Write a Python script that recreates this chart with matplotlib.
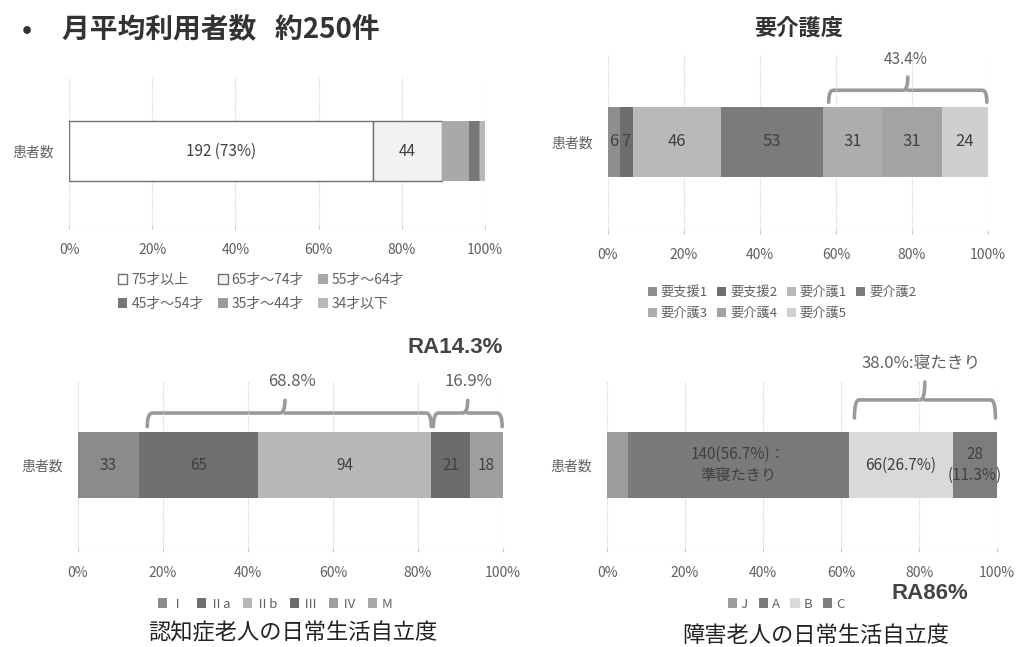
import matplotlib
matplotlib.use("Agg")
import matplotlib.pyplot as plt
import numpy as np
from matplotlib.path import Path
from matplotlib.patches import PathPatch
import matplotlib.transforms as mtransforms

plt.rcParams['font.family'] = ['Noto Sans CJK JP', 'DejaVu Sans']

W, H = 1018, 647

# 年齢構成
age_cats = ["75才以上", "65才～74才", "55才～64才", "45才～54才", "35才～44才", "34才以下"]
age_vals = [192, 44, 17, 6, 1, 3]
age_labels = ["192 (73%)", "44", "", "", "", ""]

# 要介護度
care_cats = ["要支援1", "要支援2", "要介護1", "要介護2", "要介護3", "要介護4", "要介護5"]
care_vals = [6, 7, 46, 53, 31, 31, 24]
care_labels = ["6", "7", "46", "53", "31", "31", "24"]

# 認知症老人の日常生活自立度
dem_cats = ["Ⅰ", "Ⅱa", "Ⅱb", "Ⅲ", "Ⅳ", "M"]
dem_vals = [33, 65, 94, 21, 18, 0]
dem_labels = ["33", "65", "94", "21", "18", ""]

# 障害老人の日常生活自立度
bed_cats = ["J", "A", "B", "C"]
bed_vals = [13, 140, 66, 28]
bed_labels = ["", "140(56.7%)：\n準寝たきり", "66(26.7%)", "28\n(11.3%)"]

age_colors = ["#ffffff", "#f2f2f2", "#a9a9a9", "#777777", "#9a9a9a", "#b8b8b8"]
care_colors = ["#8e8e8e", "#6e6e6e", "#b9b9b9", "#7b7b7b", "#adadad", "#a3a3a3", "#cfcfcf"]
dem_colors = ["#8b8b8b", "#707070", "#b7b7b7", "#6b6b6b", "#9e9e9e", "#a8a8a8"]
bed_colors = ["#9c9c9c", "#7a7a7a", "#d9d9d9", "#7d7d7d"]

fig = plt.figure(figsize=(W / 100, H / 100), dpi=100)
fig.patch.set_facecolor("white")


def pix_axes(x0, x1, ytop, ybot):
    return fig.add_axes([x0 / W, 1 - ybot / H, (x1 - x0) / W, (ybot - ytop) / H])


def stacked_bar(ax, vals, colors, labels, edge=None, fs=11):
    total = sum(vals)
    left = 0
    bars = []
    for i, v in enumerate(vals):
        frac = v / total
        ec = edge[i] if edge else "none"
        b = ax.barh(0, frac, left=left, height=0.4, color=colors[i],
                    edgecolor=ec, linewidth=1.0 if edge else 0, zorder=3)
        bars.append(b[0])
        if labels[i]:
            ax.text(left + frac / 2, 0, labels[i], ha="center", va="center",
                    fontsize=fs, color="#404040", zorder=4, linespacing=1.3)
        left += frac
    ax.set_xlim(0, 1)
    ax.set_ylim(-0.5, 0.5)
    ax.set_xticks(np.linspace(0, 1, 6))
    ax.set_xticklabels([f"{int(t * 100)}%" for t in np.linspace(0, 1, 6)],
                       fontsize=10, color="#606060")
    ax.set_yticks([0])
    ax.set_yticklabels(["患者数"], fontsize=10, color="#606060")
    ax.tick_params(axis="y", length=0, pad=11)
    ax.tick_params(axis="x", length=3, color="#c8c8c8", pad=10)
    for s in ax.spines.values():
        s.set_visible(False)
    ax.grid(axis="x", color="#d4d4d4", linestyle=(0, (1, 1)), linewidth=0.8, zorder=0)
    ax.axhline(-0.5, color="#c8c8c8", linestyle=(0, (1, 1)), linewidth=0.9, zorder=1)
    return bars


def brace(ax, x0, x1, y_low, y_mid, y_top, xm=None):
    # curly bracket in data-x / axes-y coordinates
    if xm is None:
        xm = (x0 + x1) / 2
    r = 0.012
    verts = [(x0, y_low), (x0, y_mid), (x0 + r, y_mid),
             (xm - r, y_mid),
             (xm, y_mid), (xm, y_top),
             (xm, y_mid), (xm + r, y_mid),
             (x1 - r, y_mid),
             (x1, y_mid), (x1, y_low)]
    codes = [Path.MOVETO, Path.CURVE3, Path.CURVE3,
             Path.LINETO,
             Path.CURVE3, Path.CURVE3,
             Path.MOVETO, Path.LINETO,
             Path.LINETO,
             Path.CURVE3, Path.CURVE3]
    trans = mtransforms.blended_transform_factory(ax.transData, ax.transAxes)
    p = PathPatch(Path(verts, codes), facecolor="none", edgecolor="#9a9a9a",
                  linewidth=2.6, transform=trans, clip_on=False, capstyle="round")
    ax.add_patch(p)


def legend(ax, bars, names, order, ncol, cx, cy, fs=9, colsp=0.8, rowsp=0.45):
    h = [bars[i] for i in order]
    n = [names[i] for i in order]
    ax.legend(h, n, ncol=ncol, loc="center", bbox_to_anchor=(cx / W, 1 - cy / H),
              bbox_transform=fig.transFigure, frameon=False, fontsize=fs,
              handlelength=0.7, handleheight=0.7, handletextpad=0.3,
              columnspacing=colsp, labelspacing=rowsp, labelcolor="#606060")


# 見出し
fig.text(22 / W, 1 - 30 / H, "•", fontsize=19, fontweight="bold", color="#333333", va="center")
fig.text(62 / W, 1 - 30 / H, "月平均利用者数   約250件", fontsize=20, fontweight="bold",
         color="#333333", va="center")

# 年齢
ax1 = pix_axes(69, 485, 77, 225)
b1 = stacked_bar(ax1, age_vals, age_colors, age_labels,
                 edge=["#707070", "#707070", "none", "none", "none", "none"])
legend(ax1, b1, age_cats, [0, 3, 1, 4, 2, 5], 3, 261, 292, fs=10, colsp=1.0, rowsp=0.75)

# 要介護度
ax2 = pix_axes(608, 988, 54, 230)
b2 = stacked_bar(ax2, care_vals, care_colors, care_labels, fs=12)
legend(ax2, b2, care_cats, [0, 4, 1, 5, 2, 6, 3], 4, 782, 303, fs=9.5, colsp=0.7, rowsp=0.6)
fig.text(799 / W, 1 - 28 / H, "要介護度", fontsize=16, fontweight="bold", color="#333333",
         ha="center", va="center")
c2 = np.cumsum(care_vals) / sum(care_vals)
brace(ax2, c2[3] + 0.015, 0.997, 0.726, 0.794, 0.869)
ax2.text((c2[3] + 1) / 2, 0.97, "43.4%", transform=mtransforms.blended_transform_factory(
    ax2.transData, ax2.transAxes), ha="center", va="center", fontsize=11, color="#606060")

# 認知症
ax3 = pix_axes(78, 503, 382, 548)
b3 = stacked_bar(ax3, dem_vals, dem_colors, dem_labels)
legend(ax3, b3, dem_cats, range(6), 6, 275, 604, fs=9.5, colsp=0.95)
fig.text(293 / W, 1 - 633 / H, "認知症老人の日常生活自立度", fontsize=16, color="#222222",
         ha="center", va="center")
c3 = np.cumsum(dem_vals) / sum(dem_vals)
t3 = mtransforms.blended_transform_factory(ax3.transData, ax3.transAxes)
brace(ax3, c3[0] + 0.02, c3[2], 0.731, 0.813, 0.89, xm=0.487)
brace(ax3, c3[2] + 0.005, 0.998, 0.731, 0.813, 0.89, xm=0.917)
ax3.text(0.503, 1.0, "68.8%", transform=t3, ha="center", va="center", fontsize=12, color="#606060")
ax3.text(0.918, 1.0, "16.9%", transform=t3, ha="center", va="center", fontsize=12, color="#606060")
ax3.text(1.0, 1.205, "RA14.3%", transform=t3, ha="right", va="center", fontsize=16,
         fontweight="bold", family=["Liberation Sans", "DejaVu Sans"], color="#444444")

# 障害老人
ax4 = pix_axes(607, 997, 382, 548)
b4 = stacked_bar(ax4, bed_vals, bed_colors, bed_labels)
legend(ax4, b4, bed_cats, range(4), 4, 786, 604, fs=9.5)
fig.text(816 / W, 1 - 635 / H, "障害老人の日常生活自立度", fontsize=16, color="#222222",
         ha="center", va="center")
c4 = np.cumsum(bed_vals) / sum(bed_vals)
t4 = mtransforms.blended_transform_factory(ax4.transData, ax4.transAxes)
brace(ax4, c4[1] + 0.015, 0.996, 0.783, 0.892, 1.0, xm=0.815)
ax4.text(0.804, 1.113, "38.0%:寝たきり", transform=t4, ha="center", va="center",
         fontsize=12, color="#606060")
ax4.text(0.827, -0.273, "RA86%", transform=t4, ha="center", va="center", fontsize=16,
         fontweight="bold", family=["Liberation Sans", "DejaVu Sans"], color="#444444")

fig.savefig("out.png", dpi=100, facecolor="white")
